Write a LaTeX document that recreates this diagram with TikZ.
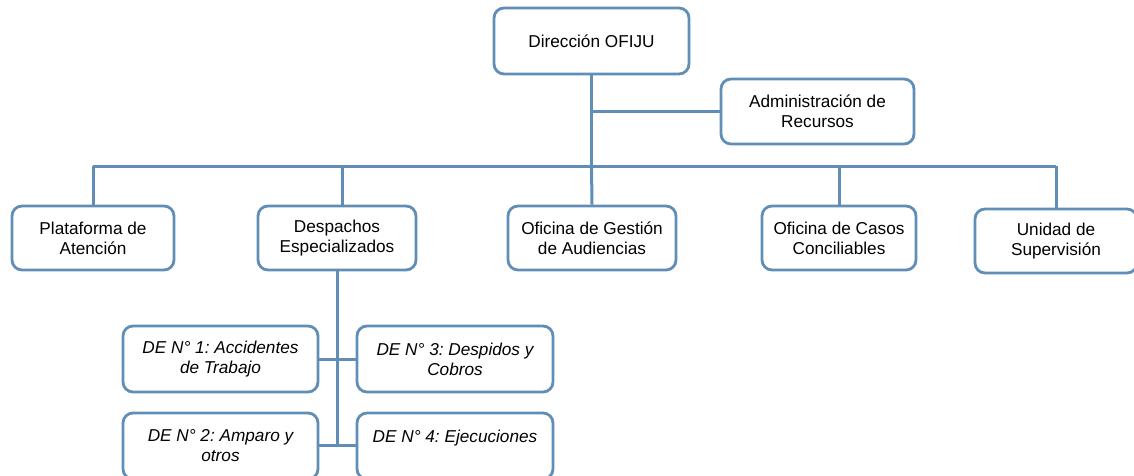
\documentclass[tikz,border=0pt]{standalone}
\usepackage{fontspec}
\setmainfont{Liberation Sans}
\frenchspacing
\definecolor{lineblue}{RGB}{96,142,182}
\begin{document}
\begin{tikzpicture}[x=1pt,y=-1pt,
  box/.style={draw=lineblue,line width=2.8pt,rounded corners=10pt,fill=white,
    align=center,inner sep=2pt,font=\fontsize{17.2}{20}\selectfont\frenchspacing},
  debox/.style={box,font=\fontsize{17.2}{20}\selectfont\itshape\frenchspacing},
  conn/.style={draw=lineblue,line width=3pt}]
\useasboundingbox (0,0) rectangle (1134,475);
\clip (0,0) rectangle (1134,475);
% nodes
\node[box,minimum width=195pt,minimum height=66pt] (dir) at (591.5,41) {Dirección OFIJU};
\node[box,minimum width=193pt,minimum height=65pt] (adm) at (817.5,111.5) {Administración de\\Recursos};
\node[box,minimum width=162pt,minimum height=64pt] (plat) at (93,238) {Plataforma de\\Atención};
\node[box,minimum width=158pt,minimum height=64pt] (desp) at (337,238) {Despachos\\Especializados};
\node[box,minimum width=168pt,minimum height=64pt] (gest) at (592,238) {Oficina de Gestión\\de Audiencias};
\node[box,minimum width=154pt,minimum height=64pt] (casos) at (839,238) {Oficina de Casos\\Conciliables};
\node[box,minimum width=162pt,minimum height=64pt] (unid) at (1056,241) {Unidad de\\Supervisión};
\node[debox,minimum width=195pt,minimum height=66pt] (de1) at (220.5,359) {DE N° 1: Accidentes\\de Trabajo};
\node[debox,minimum width=196pt,minimum height=66pt] (de3) at (455,359) {DE N° 3: Despidos y\\Cobros};
\node[debox,minimum width=195pt,minimum height=66pt] (de2) at (220.5,446) {DE N° 2: Amparo y\\otros};
\node[debox,minimum width=196pt,minimum height=66pt] (de4) at (455,446) {DE N° 4: Ejecuciones\\\mbox{}};
% connectors
\coordinate (barL) at (93,166);
\coordinate (barR) at (1056,166);
\coordinate (trunk) at (591.5,166);
\coordinate (admj) at (591.5,111.5);
\coordinate (deBot) at (337,445);
\draw[conn] (dir.south) -- (trunk);
\draw[conn] (admj) -- (adm.west);
\draw[conn] (barL) -- (barR);
\draw[conn] (barL) -- (plat.north);
\draw[conn] (desp.north -| 342,0) -- (342,166);
\draw[conn] (trunk) -- (gest.north);
\draw[conn] (casos.north) -- (casos.north |- trunk);
\draw[conn] (barR) -- (unid.north);
\draw[conn] (desp.south) -- (deBot);
\draw[conn] (de1.east) -- (de3.west);
\draw[conn] (de2.east |- deBot) -- (de4.west |- deBot);
\end{tikzpicture}
\end{document}
